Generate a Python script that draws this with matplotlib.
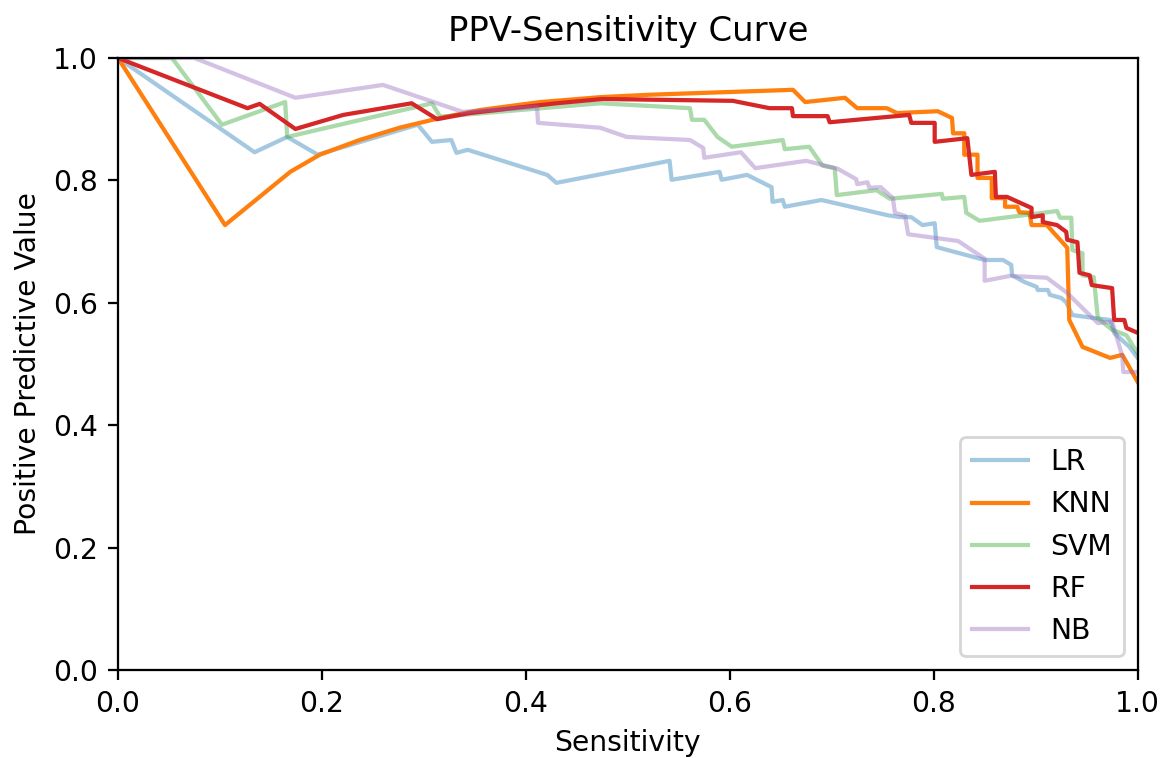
import numpy as np
import matplotlib
matplotlib.use("Agg")
import matplotlib.pyplot as plt

# sensitivity / PPV pairs
lr_sens = [0, 0.134, 0.166, 0.196, 0.294, 0.308, 0.327, 0.332, 0.343, 0.421, 0.430,
           0.541, 0.543, 0.590, 0.592, 0.617, 0.641, 0.642, 0.652, 0.654, 0.690,
           0.755, 0.767, 0.778, 0.789, 0.801, 0.803, 0.850, 0.868, 0.876, 0.877,
           0.889, 0.901, 0.902, 0.912, 0.914, 0.925, 0.930, 0.936, 0.958, 0.973,
           0.977, 0.992, 1.0]
lr_ppv = [1.0, 0.846, 0.871, 0.842, 0.891, 0.863, 0.866, 0.845, 0.850, 0.809, 0.796,
          0.832, 0.801, 0.814, 0.801, 0.809, 0.789, 0.765, 0.768, 0.757, 0.768,
          0.743, 0.740, 0.740, 0.727, 0.730, 0.691, 0.670, 0.670, 0.662, 0.645,
          0.634, 0.626, 0.621, 0.621, 0.613, 0.608, 0.601, 0.580, 0.575, 0.572,
          0.551, 0.528, 0.510]

knn_sens = [0, 0.105, 0.169, 0.198, 0.237, 0.276, 0.316, 0.355, 0.414, 0.473, 0.522,
            0.662, 0.674, 0.713, 0.725, 0.754, 0.764, 0.804, 0.818, 0.819, 0.830,
            0.830, 0.843, 0.843, 0.857, 0.857, 0.870, 0.870, 0.882, 0.884, 0.894,
            0.896, 0.911, 0.931, 0.933, 0.946, 0.973, 0.985, 1.0]
knn_ppv = [1.0, 0.727, 0.814, 0.842, 0.866, 0.886, 0.902, 0.915, 0.928, 0.936, 0.940,
           0.948, 0.928, 0.935, 0.918, 0.918, 0.910, 0.913, 0.902, 0.877, 0.877,
           0.842, 0.842, 0.804, 0.804, 0.771, 0.771, 0.757, 0.757, 0.748, 0.747,
           0.727, 0.727, 0.690, 0.572, 0.528, 0.510, 0.515, 0.471]

svm_sens = [0, 0.053, 0.102, 0.164, 0.166, 0.308, 0.316, 0.430, 0.473, 0.561, 0.563,
            0.575, 0.588, 0.602, 0.652, 0.654, 0.678, 0.691, 0.703, 0.705, 0.744,
            0.757, 0.808, 0.809, 0.830, 0.832, 0.845, 0.921, 0.924, 0.935, 0.936,
            0.946, 0.946, 0.957, 0.961, 0.975, 0.989, 1.0]
svm_ppv = [1.0, 1.0, 0.891, 0.928, 0.871, 0.926, 0.904, 0.920, 0.926, 0.918, 0.899,
           0.899, 0.871, 0.855, 0.866, 0.851, 0.855, 0.824, 0.820, 0.776, 0.784,
           0.770, 0.778, 0.770, 0.773, 0.747, 0.734, 0.750, 0.739, 0.739, 0.686,
           0.681, 0.645, 0.642, 0.575, 0.556, 0.547, 0.518]

rf_sens = [0, 0.127, 0.139, 0.174, 0.221, 0.288, 0.313, 0.345, 0.430, 0.475, 0.603,
           0.639, 0.661, 0.662, 0.696, 0.698, 0.776, 0.778, 0.801, 0.801, 0.833,
           0.837, 0.860, 0.861, 0.872, 0.896, 0.896, 0.907, 0.907, 0.921, 0.930,
           0.931, 0.941, 0.943, 0.953, 0.955, 0.975, 0.977, 0.987, 0.989, 1.0]
rf_ppv = [1.0, 0.918, 0.925, 0.884, 0.907, 0.926, 0.900, 0.910, 0.926, 0.933, 0.930,
          0.918, 0.918, 0.905, 0.905, 0.895, 0.907, 0.894, 0.894, 0.863, 0.869,
          0.809, 0.814, 0.773, 0.773, 0.755, 0.740, 0.743, 0.732, 0.727, 0.716,
          0.703, 0.699, 0.649, 0.645, 0.629, 0.624, 0.572, 0.572, 0.559, 0.551]

nb_sens = [0, 0.075, 0.174, 0.260, 0.338, 0.411, 0.412, 0.473, 0.499, 0.561, 0.574,
           0.575, 0.611, 0.625, 0.675, 0.706, 0.724, 0.725, 0.735, 0.737, 0.748,
           0.760, 0.762, 0.772, 0.775, 0.824, 0.850, 0.850, 0.875, 0.911, 0.931,
           0.948, 0.961, 0.975, 0.985, 0.986, 1.0]
nb_ppv = [1.0, 1.0, 0.935, 0.956, 0.912, 0.920, 0.894, 0.886, 0.871, 0.866, 0.853,
          0.837, 0.846, 0.820, 0.832, 0.819, 0.802, 0.794, 0.797, 0.788, 0.789,
          0.771, 0.747, 0.742, 0.712, 0.701, 0.672, 0.636, 0.644, 0.641, 0.616,
          0.588, 0.567, 0.569, 0.513, 0.487, 0.487]

dpi = 203
fig = plt.figure(figsize=(1162 / dpi, 758 / dpi), dpi=dpi)
ax = fig.add_axes([0.1015, 0.116, 0.8775, 0.8075])

ax.plot(lr_sens, lr_ppv, color="tab:blue", alpha=0.4, label="LR")
ax.plot(knn_sens, knn_ppv, color="tab:orange", label="KNN")
ax.plot(svm_sens, svm_ppv, color="tab:green", alpha=0.4, label="SVM")
ax.plot(rf_sens, rf_ppv, color="tab:red", label="RF")
ax.plot(nb_sens, nb_ppv, color="tab:purple", alpha=0.4, label="NB")

ax.set_xlim(0, 1)
ax.set_ylim(0, 1)
ax.set_xlabel("Sensitivity")
ax.set_ylabel("Positive Predictive Value")
ax.set_title("PPV-Sensitivity Curve")
ax.legend(loc="lower right")

fig.savefig("out.png", dpi=dpi)
